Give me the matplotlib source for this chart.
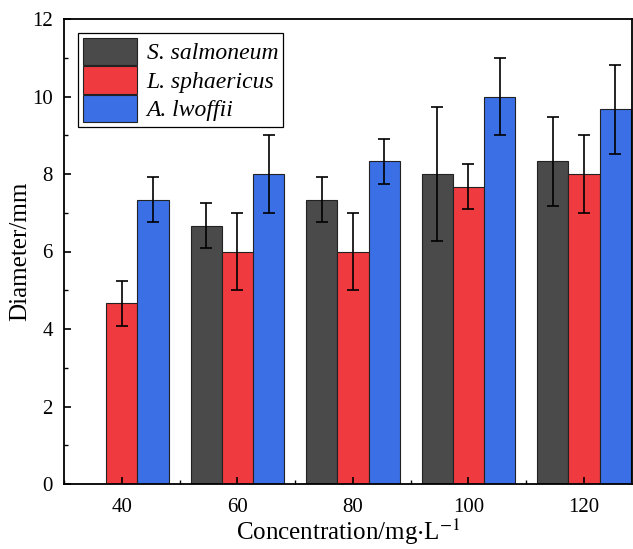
import numpy as np
import matplotlib.pyplot as plt
from matplotlib.ticker import MultipleLocator

plt.rcParams['font.family'] = ['Liberation Serif', 'DejaVu Serif']
plt.rcParams['mathtext.fontset'] = 'stix'

conc = [40, 60, 80, 100, 120]
salmoneum = [0, 6.67, 7.33, 8.0, 8.33]
salmoneum_err = [0, 0.58, 0.58, 1.73, 1.15]
sphaericus = [4.67, 6.0, 6.0, 7.67, 8.0]
sphaericus_err = [0.58, 1.0, 1.0, 0.58, 1.0]
lwoffii = [7.33, 8.0, 8.33, 10.0, 9.67]
lwoffii_err = [0.58, 1.0, 0.58, 1.0, 1.15]

fig = plt.figure(figsize=(6.33, 5.49), dpi=100)
ax = fig.add_axes([64 / 633, 1 - 484 / 549, (632 - 64) / 633, (484 - 19) / 549])

x = np.array(conc, dtype=float)
w = 5.4
err_kw = dict(ecolor='black', capsize=4, elinewidth=1.2, capthick=1.2)
ax.bar(x - w, salmoneum, w, yerr=[e if v > 0 else np.nan for v, e in zip(salmoneum, salmoneum_err)],
       color='#4a4a4a', edgecolor='#222222', linewidth=0.8, label='S. salmoneum', error_kw=err_kw)
ax.bar(x, sphaericus, w, yerr=sphaericus_err, color='#ef3b3f', edgecolor='#222222', linewidth=0.8,
       label='L. sphaericus', error_kw=err_kw)
ax.bar(x + w, lwoffii, w, yerr=lwoffii_err, color='#3b6fe6', edgecolor='#222222', linewidth=0.8,
       label='A. lwoffii', error_kw=err_kw)

ax.set_xlim(30, 128.3)
ax.set_ylim(0, 12)
ax.set_xticks(conc)
ax.xaxis.set_minor_locator(MultipleLocator(10))
ax.yaxis.set_major_locator(MultipleLocator(2))
ax.yaxis.set_minor_locator(MultipleLocator(1))
ax.tick_params(which='both', direction='in', labelsize=15)
ax.tick_params(axis='x', pad=10)
ax.tick_params(axis='y', pad=8)
ax.tick_params(which='major', length=5, width=1.2)
ax.tick_params(which='minor', length=3, width=1)
for s in ax.spines.values():
    s.set_linewidth(1.3)

ax.set_xlabel('Concentration/mg$\\cdot$L$^{\\mathrm{-1}}$', fontsize=18, labelpad=0)
ax.set_ylabel('Diameter/mm', fontsize=18, labelpad=1)

leg = ax.legend(loc='upper left', prop={'style': 'italic', 'size': 17}, fancybox=False,
                edgecolor='black', framealpha=1, handlelength=2.3, handleheight=1.4,
                borderaxespad=0.6, handletextpad=0.4, labelspacing=0.05, borderpad=0.2)
leg.get_frame().set_linewidth(0.9)

fig.savefig('out.png', dpi=100)
